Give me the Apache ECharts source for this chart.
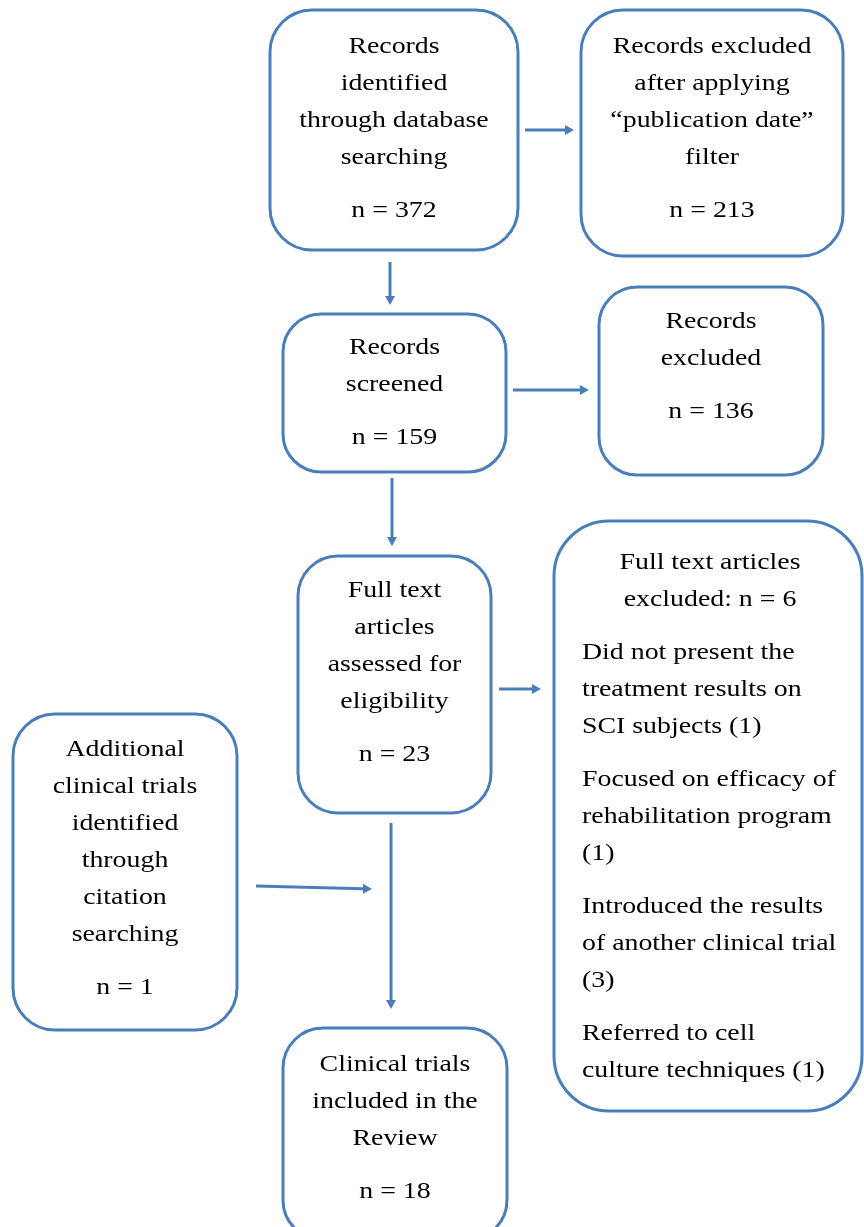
<!DOCTYPE html>
<html style="height: 100%">
<head>
  <meta charset="utf-8">
</head>
<body style="height: 100%; margin: 0; background: #fff">
  <div id="container" style="width: 864px; height: 1227px"></div>
  <script type="text/javascript" src="https://cdn.jsdelivr.net/npm/echarts@6/dist/echarts.min.js"></script>
  <script type="text/javascript">
    // box texts (PRISMA flow)
    var boxLabels = [
      ['Records', 'identified', 'through database', 'searching'],
      ['Records excluded', 'after applying', '\u201Cpublication date\u201D', 'filter'],
      ['Records', 'screened'],
      ['Records', 'excluded'],
      ['Full text', 'articles', 'assessed for', 'eligibility'],
      ['Additional', 'clinical trials', 'identified', 'through', 'citation', 'searching'],
      ['Clinical trials', 'included in the', 'Review']
    ];
    var boxCounts = [372, 213, 159, 136, 23, 1, 18];

    var excludedHeader = ['Full text articles', 'excluded: n = 6'];
    var exclusionReasons = [
      ['Did not present the', 'treatment results on', 'SCI subjects (1)'],
      ['Focused on efficacy of', 'rehabilitation program', '(1)'],
      ['Introduced the results', 'of another clinical trial', '(3)'],
      ['Referred to cell', 'culture techniques (1)']
    ];

    // layout: x, y, w, h, radius, first text line y
    var boxRects = [
      [270, 10, 248, 240, 42, 47],
      [581, 10, 262, 246, 42, 47],
      [283, 314, 223, 158, 38, 348],
      [599, 287, 224, 188, 38, 322],
      [298, 556, 193, 257, 40, 591],
      [13, 714, 224, 316, 42, 750],
      [283, 1028, 224, 212, 40, 1065]
    ];
    var excludedRect = [554, 521, 308, 590, 55, 563];
    var arrows = [
      [525, 130, 574, 130],
      [390, 262, 390, 305],
      [513, 390, 589, 390],
      [392, 478, 392, 546],
      [499, 689, 541, 689],
      [391, 823, 391, 1009],
      [256, 886, 372, 889]
    ];

    var LINE_H = 37, PARA_GAP = 53;
    var BLUE = '#4a7ebb';
    var FONT = '24px "Liberation Serif", "Times New Roman", serif';
    var STRETCH = 1.16;

    var dom = document.getElementById('container');
    var myChart = echarts.init(dom);
    var elements = [];

    function addRect(r) {
      elements.push({
        type: 'rect',
        shape: { x: r[0], y: r[1], width: r[2], height: r[3], r: r[4] },
        style: { fill: '#fff', stroke: BLUE, lineWidth: 3 }
      });
    }
    function addText(str, x, y, align) {
      elements.push({
        type: 'text',
        x: x, y: y,
        scaleX: STRETCH,
        style: {
          text: str, font: FONT, fill: '#000',
          textAlign: align || 'center', textVerticalAlign: 'middle'
        }
      });
    }

    boxRects.forEach(function (r, i) {
      addRect(r);
      var cx = r[0] + r[2] / 2;
      var y = r[5];
      boxLabels[i].forEach(function (s, k) {
        addText(s, cx, y);
        if (k < boxLabels[i].length - 1) y += LINE_H;
      });
      addText('n = ' + boxCounts[i], cx, y + PARA_GAP);
    });

    addRect(excludedRect);
    var ecx = excludedRect[0] + excludedRect[2] / 2 + 2;
    var ey = excludedRect[5];
    addText(excludedHeader[0], ecx, ey);
    ey += LINE_H;
    addText(excludedHeader[1], ecx, ey);
    exclusionReasons.forEach(function (grp) {
      ey += PARA_GAP;
      grp.forEach(function (s, k) {
        if (k > 0) ey += LINE_H;
        addText(s, excludedRect[0] + 28, ey, 'left');
      });
    });

    arrows.forEach(function (a) {
      var dx = a[2] - a[0], dy = a[3] - a[1];
      var len = Math.sqrt(dx * dx + dy * dy);
      var ux = dx / len, uy = dy / len;
      var hl = 9, hw = 5;
      var bx = a[2] - ux * hl, by = a[3] - uy * hl;
      elements.push({
        type: 'line',
        shape: { x1: a[0], y1: a[1], x2: bx, y2: by },
        style: { stroke: BLUE, lineWidth: 3 }
      });
      elements.push({
        type: 'polygon',
        shape: { points: [[a[2], a[3]], [bx - uy * hw, by + ux * hw], [bx + uy * hw, by - ux * hw]] },
        style: { fill: BLUE }
      });
    });

    var option = {
      backgroundColor: '#fff',
      animation: false,
      graphic: { elements: elements }
    };
    myChart.setOption(option);
  </script>
</body>
</html>
